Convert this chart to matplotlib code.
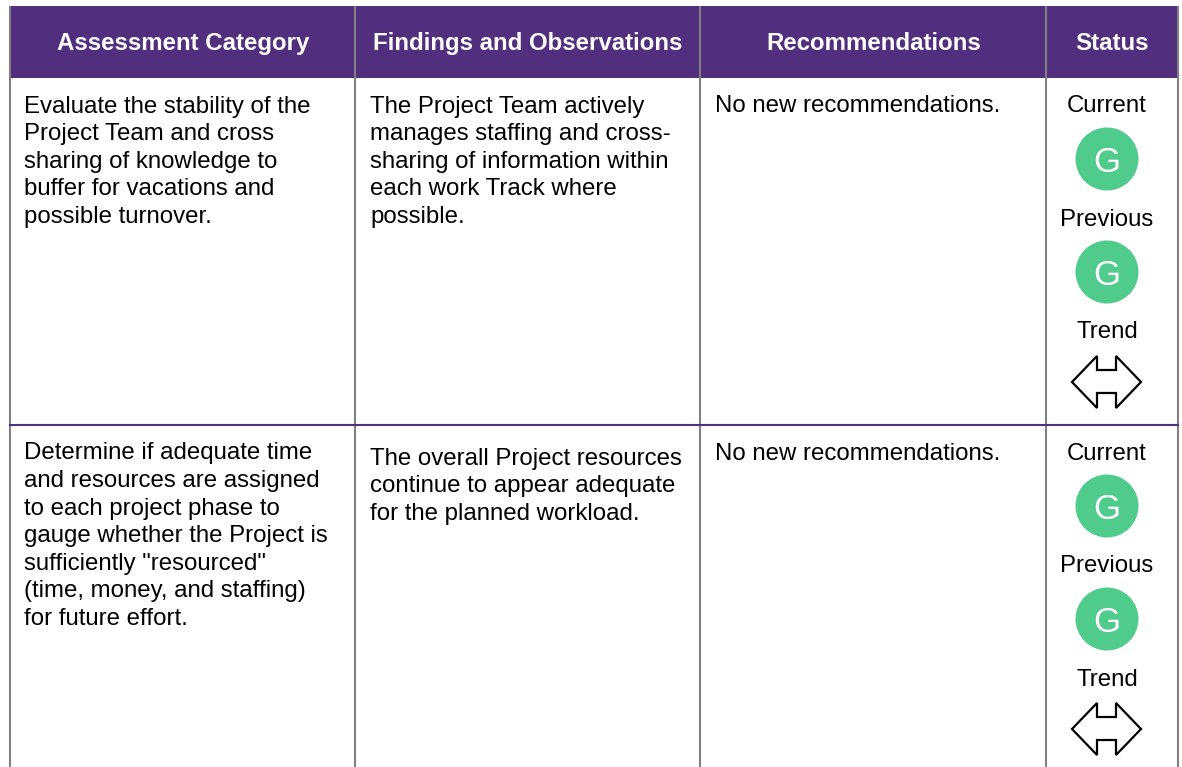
import matplotlib
matplotlib.use("Agg")
import matplotlib.pyplot as plt
from matplotlib.patches import Circle, Polygon, Rectangle

plt.rcParams['font.family'] = ['Liberation Sans', 'DejaVu Sans']

PURPLE = "#522e7e"
GREY = "#808080"
GREEN = "#4fcb8b"

# table content
headers = ["Assessment Category", "Findings and Observations", "Recommendations", "Status"]
row1_category = ["Evaluate the stability of the", "Project Team and cross",
                 "sharing of knowledge to", "buffer for vacations and", "possible turnover."]
row1_findings = ["The Project Team actively", "manages staffing and cross-",
                 "sharing of information within", "each work Track where", "possible."]
row2_category = ["Determine if adequate time", "and resources are assigned",
                 "to each project phase to", "gauge whether the Project is",
                 "sufficiently \"resourced\"", "(time, money, and staffing)", "for future effort."]
row2_findings = ["The overall Project resources", "continue to appear adequate",
                 "for the planned workload."]
recommendation = "No new recommendations."
status_labels = ["Current", "Previous", "Trend"]
status_values = ["G", "G"]

# layout, in pixels of the reference
W, H = 1182, 767
col_x = [10, 355, 700, 1046, 1178]
head_top, head_bottom = 6, 78
row_tops = [78, 425]
LINE = 27.6
FS = 17.3
status_x = 1107


def bloc(x, y, lignes):
    for i, s in enumerate(lignes):
        ax.text(x, y + i * LINE, s, fontsize=FS, color="black", va="center_baseline", ha="left")


def estado(top):
    # Current / Previous / Trend stacked in the status column
    for k, lab in enumerate(status_labels):
        ax.text(status_x, top + 26 + k * 113, lab, fontsize=FS, ha="center", va="center_baseline")
    for k, val in enumerate(status_values):
        cy = top + 81 + k * 113
        ax.add_patch(Circle((status_x, cy), 31.5, fc=GREEN, ec="none"))
        ax.text(status_x - 0.5, cy, val, fontsize=25, color="white", ha="center", va="center_baseline")
    # double arrow
    cy = top + 304
    flecha = [(-35, 0), (-10, -26), (-10, -12), (9, -12), (9, -26), (34, 0),
              (9, 26), (9, 11), (-10, 11), (-10, 26)]
    ax.add_patch(Polygon([(status_x + a, cy + b) for a, b in flecha], closed=True,
                         fc="white", ec="black", lw=1.6, joinstyle="miter"))


fig = plt.figure(figsize=(W / 100, H / 100), dpi=100)
ax = fig.add_axes([0, 0, 1, 1])
ax.set_xlim(0, W)
ax.set_ylim(H, 0)
ax.axis("off")

# header band
ax.add_patch(Rectangle((col_x[0], head_top), col_x[-1] - col_x[0], head_bottom - head_top,
                       fc=PURPLE, ec="none", zorder=1))
for i, h in enumerate(headers):
    ax.text((col_x[i] + col_x[i + 1]) / 2 + 0.5, 41, h, color="white", fontsize=17.3, fontweight="bold",
            ha="center", va="center_baseline", zorder=3)

# grid
for x in col_x:
    ax.plot([x, x], [head_top, H], color=GREY, lw=1.5, zorder=2, solid_capstyle="butt")
ax.plot([col_x[0], col_x[-1]], [row_tops[1], row_tops[1]], color=PURPLE, lw=1.5, zorder=2)

# rows
bloc(24, 104, row1_category)
bloc(370, 104, row1_findings)
bloc(715, 104, [recommendation])
estado(row_tops[0])

bloc(24, 451, row2_category)
bloc(370, 456, row2_findings)
bloc(715, 451, [recommendation])
estado(row_tops[1])

fig.savefig("out.png", dpi=100)
